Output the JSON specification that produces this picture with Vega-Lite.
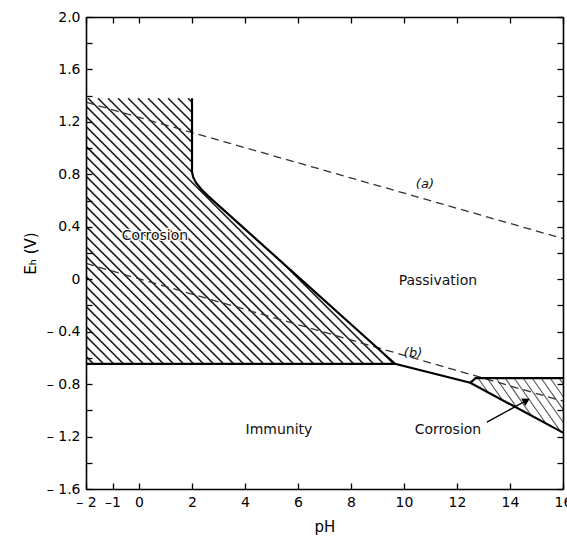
{
  "$schema": "https://vega.github.io/schema/vega-lite/v6.json",
  "width": 477,
  "height": 472,
  "autosize": {"type": "none"},
  "padding": {"left": 86, "top": 17, "right": 4, "bottom": 51},
  "background": "white",
  "config": {"font": "DejaVu Sans", "view": {"stroke": null}},
  "datasets": {
    "hatchL": [
      {"xa": 1.85, "xb": 11.87}, {"xa": 1.47, "xb": 11.49}, {"xa": 1.10, "xb": 11.12},
      {"xa": 0.72, "xb": 10.74}, {"xa": 0.34, "xb": 10.36}, {"xa": -0.04, "xb": 9.98},
      {"xa": -0.41, "xb": 9.61}, {"xa": -0.79, "xb": 9.23}, {"xa": -1.17, "xb": 8.85},
      {"xa": -1.55, "xb": 8.47}, {"xa": -1.92, "xb": 8.10}, {"xa": -2.30, "xb": 7.72},
      {"xa": -2.68, "xb": 7.34}, {"xa": -3.06, "xb": 6.96}, {"xa": -3.43, "xb": 6.59},
      {"xa": -3.81, "xb": 6.21}, {"xa": -4.19, "xb": 5.83}, {"xa": -4.57, "xb": 5.45},
      {"xa": -4.94, "xb": 5.08}, {"xa": -5.32, "xb": 4.70}, {"xa": -5.70, "xb": 4.32},
      {"xa": -6.08, "xb": 3.94}, {"xa": -6.45, "xb": 3.57}, {"xa": -6.83, "xb": 3.19},
      {"xa": -7.21, "xb": 2.81}, {"xa": -7.59, "xb": 2.43}, {"xa": -7.96, "xb": 2.06},
      {"xa": -8.34, "xb": 1.68}, {"xa": -8.72, "xb": 1.30}, {"xa": -9.10, "xb": 0.92},
      {"xa": -9.47, "xb": 0.55}, {"xa": -9.85, "xb": 0.17}, {"xa": -10.23, "xb": -0.21},
      {"xa": -10.61, "xb": -0.59}, {"xa": -10.98, "xb": -0.96}, {"xa": -11.36, "xb": -1.34},
      {"xa": -11.74, "xb": -1.72}
    ],
    "hatchR": [
      {"xa": 12.80, "xb": 14.34}, {"xa": 13.14, "xb": 14.68}, {"xa": 13.48, "xb": 15.02},
      {"xa": 13.82, "xb": 15.36}, {"xa": 14.16, "xb": 15.70}, {"xa": 14.50, "xb": 16.04},
      {"xa": 14.84, "xb": 16.38}, {"xa": 15.18, "xb": 16.72}, {"xa": 15.52, "xb": 17.06},
      {"xa": 15.86, "xb": 17.40}
    ],
    "coverA": [
      {"bx": 2.0, "by": 0.82}, {"bx": 2.04, "by": 0.78}, {"bx": 2.15, "by": 0.736},
      {"bx": 2.34, "by": 0.688}, {"bx": 2.6, "by": 0.636}, {"bx": 9.66, "by": -0.645},
      {"bx": 12.5, "by": -0.79}, {"bx": 16.0, "by": -1.17}
    ],
    "coverB": [
      {"bx": 12.5, "by": -0.79}, {"bx": 16.0, "by": -1.17}
    ],
    "bounds": [
      {"seg": "A", "ord": 1, "px": 2.0, "ey": 1.38},
      {"seg": "A", "ord": 2, "px": 2.0, "ey": 0.82},
      {"seg": "A", "ord": 3, "px": 2.04, "ey": 0.78},
      {"seg": "A", "ord": 4, "px": 2.15, "ey": 0.736},
      {"seg": "A", "ord": 5, "px": 2.34, "ey": 0.688},
      {"seg": "A", "ord": 6, "px": 2.6, "ey": 0.636},
      {"seg": "A", "ord": 7, "px": 9.66, "ey": -0.645},
      {"seg": "A", "ord": 8, "px": 12.5, "ey": -0.79},
      {"seg": "A", "ord": 9, "px": 16.0, "ey": -1.17},
      {"seg": "B", "ord": 1, "px": -2.0, "ey": -0.645},
      {"seg": "B", "ord": 2, "px": 9.66, "ey": -0.645},
      {"seg": "C", "ord": 1, "px": 12.5, "ey": -0.79},
      {"seg": "C", "ord": 2, "px": 12.7, "ey": -0.755},
      {"seg": "C", "ord": 3, "px": 16.0, "ey": -0.755}
    ],
    "water": [
      {"ln": "a", "px": -2.0, "ey": 1.35}, {"ln": "a", "px": 16.0, "ey": 0.31},
      {"ln": "b", "px": -2.0, "ey": 0.12}, {"ln": "b", "px": 16.0, "ey": -0.93}
    ],
    "labels": [
      {"txt": "Corrosion", "lx": 0.6, "ly": 0.33},
      {"txt": "Passivation", "lx": 11.28, "ly": -0.015},
      {"txt": "Immunity", "lx": 5.28, "ly": -1.15},
      {"txt": "Corrosion", "lx": 11.66, "ly": -1.15}
    ],
    "italic": [
      {"txt": "(a)", "lx": 10.79, "ly": 0.73},
      {"txt": "(b)", "lx": 10.34, "ly": -0.56}
    ],
    "arrow": [
      {"ax": 13.13, "ay": -1.09, "tx": 14.62, "ty": -0.925}
    ]
  },
  "layer": [
    {
      "data": {"name": "hatchL"},
      "mark": {"type": "rule", "clip": true, "color": "#1a1a1a", "strokeWidth": 1.6},
      "encoding": {
        "x": {"field": "xa", "type": "quantitative", "scale": {"domain": [-2, 16], "nice": false, "zero": false}, "axis": null},
        "x2": {"field": "xb"},
        "y": {"datum": 1.38, "type": "quantitative", "scale": {"domain": [-1.6, 2], "nice": false, "zero": false}, "axis": null},
        "y2": {"datum": -0.645}
      }
    },
    {
      "data": {"name": "coverA"},
      "mark": {"type": "area", "color": "white", "clip": true},
      "encoding": {
        "x": {"field": "bx", "type": "quantitative", "axis": null},
        "y": {"field": "by", "type": "quantitative", "axis": null},
        "y2": {"datum": 2.0}
      }
    },
    {
      "data": {"name": "hatchR"},
      "mark": {"type": "rule", "clip": true, "color": "#555555", "strokeWidth": 1.1},
      "encoding": {
        "x": {"field": "xa", "type": "quantitative", "axis": null},
        "x2": {"field": "xb"},
        "y": {"datum": -0.755, "type": "quantitative", "axis": null},
        "y2": {"datum": -1.2}
      }
    },
    {
      "data": {"name": "coverB"},
      "mark": {"type": "area", "color": "white", "clip": true},
      "encoding": {
        "x": {"field": "bx", "type": "quantitative", "axis": null},
        "y": {"field": "by", "type": "quantitative", "axis": null},
        "y2": {"datum": -1.6}
      }
    },
    {
      "data": {"name": "water"},
      "mark": {"type": "line", "color": "#333333", "strokeWidth": 1.3, "strokeDash": [8, 5]},
      "encoding": {
        "x": {"field": "px", "type": "quantitative", "axis": null},
        "y": {"field": "ey", "type": "quantitative", "axis": null},
        "detail": {"field": "ln"}
      }
    },
    {
      "data": {"name": "bounds"},
      "mark": {"type": "line", "color": "black", "strokeWidth": 2.2},
      "encoding": {
        "x": {
          "field": "px", "type": "quantitative",
          "axis": {
            "orient": "bottom", "values": [-2, -1, 0, 2, 4, 6, 8, 10, 12, 14, 16],
            "labelExpr": "datum.value == -2 ? '– 2' : (datum.value == -1 ? '–1' : '' + datum.value)",
            "tickSize": -6, "tickColor": "black", "tickWidth": 1.3,
            "domain": true, "domainColor": "black", "domainWidth": 1.6,
            "labelFontSize": 14, "labelColor": "black", "labelPadding": 12,
            "labelFlush": false, "labelOverlap": false, "grid": false,
            "title": "pH", "titleFontSize": 15, "titleFontWeight": "normal", "titleColor": "black", "titlePadding": 10,
            "zindex": 1
          }
        },
        "y": {
          "field": "ey", "type": "quantitative",
          "axis": {
            "orient": "left",
            "values": [-1.6, -1.4, -1.2, -1, -0.8, -0.6, -0.4, -0.2, 0, 0.2, 0.4, 0.6, 0.8, 1, 1.2, 1.4, 1.6, 1.8, 2],
            "labelExpr": "round(datum.value*10) % 4 != 0 ? '' : (round(datum.value*10) == 0 ? '0' : (datum.value < 0 ? '– ' + format(-datum.value, '.1f') : format(datum.value, '.1f')))",
            "tickSize": -6, "tickColor": "black", "tickWidth": 1.3,
            "domain": true, "domainColor": "black", "domainWidth": 1.6,
            "labelFontSize": 14, "labelColor": "black", "labelPadding": 12,
            "labelFlush": false, "labelOverlap": false, "grid": false,
            "title": "Eₕ (V)", "titleFontSize": 15, "titleFontWeight": "normal", "titleColor": "black", "titlePadding": 8,
            "zindex": 1
          }
        },
        "detail": {"field": "seg"},
        "order": {"field": "ord", "type": "quantitative"}
      }
    },
    {
      "data": {"name": "labels"},
      "mark": {"type": "text", "fontSize": 14, "color": "white", "stroke": "white", "strokeWidth": 2.5},
      "encoding": {
        "x": {"field": "lx", "type": "quantitative", "axis": null},
        "y": {"field": "ly", "type": "quantitative", "axis": null},
        "text": {"field": "txt"}
      }
    },
    {
      "data": {"name": "labels"},
      "mark": {"type": "text", "fontSize": 14, "color": "#111111"},
      "encoding": {
        "x": {"field": "lx", "type": "quantitative", "axis": null},
        "y": {"field": "ly", "type": "quantitative", "axis": null},
        "text": {"field": "txt"}
      }
    },
    {
      "data": {"name": "italic"},
      "mark": {"type": "text", "fontSize": 13, "fontStyle": "italic", "color": "#111111"},
      "encoding": {
        "x": {"field": "lx", "type": "quantitative", "axis": null},
        "y": {"field": "ly", "type": "quantitative", "axis": null},
        "text": {"field": "txt"}
      }
    },
    {
      "data": {"name": "arrow"},
      "mark": {"type": "rule", "color": "black", "strokeWidth": 1.4},
      "encoding": {
        "x": {"field": "ax", "type": "quantitative", "axis": null},
        "y": {"field": "ay", "type": "quantitative", "axis": null},
        "x2": {"field": "tx"},
        "y2": {"field": "ty"}
      }
    },
    {
      "data": {"name": "arrow"},
      "mark": {"type": "point", "shape": "triangle-up", "filled": true, "color": "black", "opacity": 1, "size": 70, "angle": 61},
      "encoding": {
        "x": {"field": "tx", "type": "quantitative", "axis": null},
        "y": {"field": "ty", "type": "quantitative", "axis": null}
      }
    },
    {
      "data": {"values": [{"x": 0, "y": 0}]},
      "mark": {"type": "point", "opacity": 0},
      "encoding": {
        "x": {
          "field": "x", "type": "quantitative",
          "axis": {
            "orient": "top", "values": [-2, -1, 0, 2, 4, 6, 8, 10, 12, 14, 16],
            "labels": false, "tickSize": -6, "tickColor": "black", "tickWidth": 1.3,
            "domain": true, "domainColor": "black", "domainWidth": 1.6, "grid": false, "title": null, "zindex": 1
          }
        },
        "y": {
          "field": "y", "type": "quantitative",
          "axis": {
            "orient": "right",
            "values": [-1.6, -1.4, -1.2, -1, -0.8, -0.6, -0.4, -0.2, 0, 0.2, 0.4, 0.6, 0.8, 1, 1.2, 1.4, 1.6, 1.8, 2],
            "labels": false, "tickSize": -6, "tickColor": "black", "tickWidth": 1.3,
            "domain": true, "domainColor": "black", "domainWidth": 1.6, "grid": false, "title": null, "zindex": 1
          }
        }
      }
    }
  ],
  "resolve": {"axis": {"x": "independent", "y": "independent"}}
}
